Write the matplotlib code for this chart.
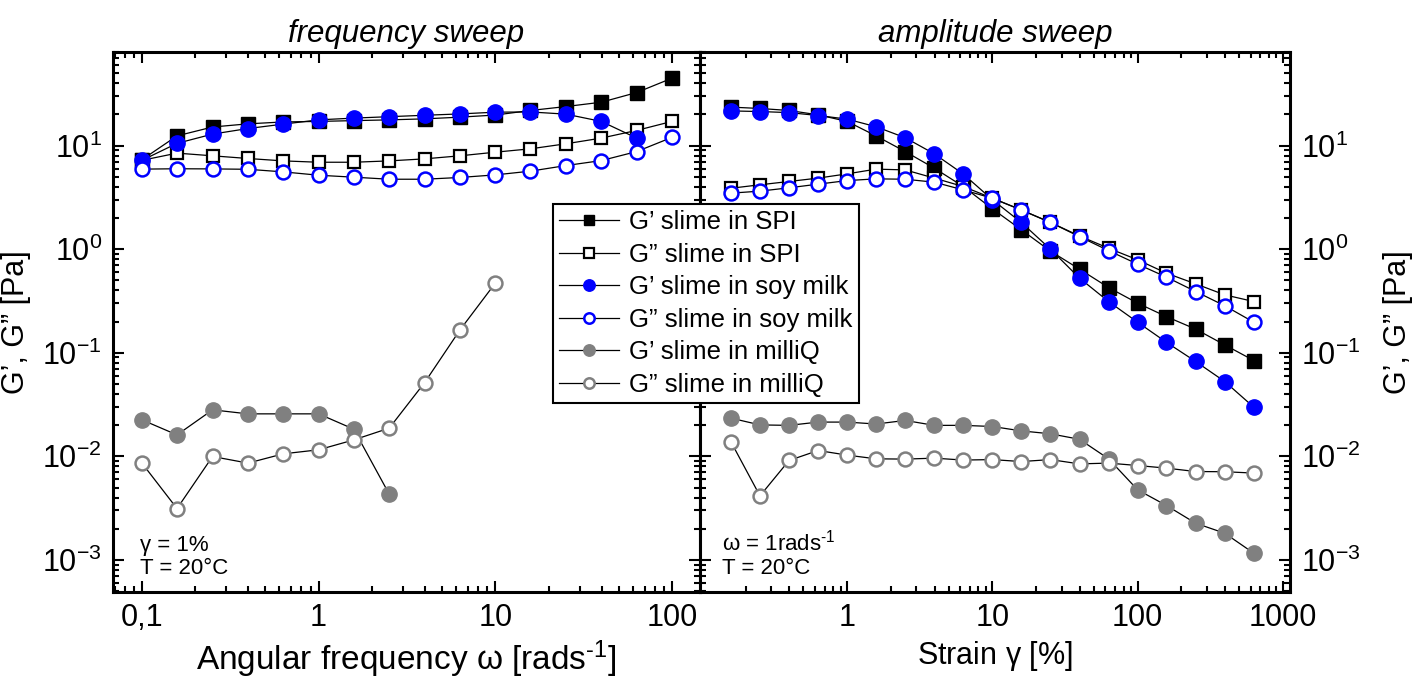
import matplotlib
matplotlib.use("Agg")
import matplotlib.pyplot as plt
from matplotlib.ticker import FixedLocator, FixedFormatter, LogLocator, NullFormatter

plt.rcParams['font.family'] = ['Liberation Sans', 'DejaVu Sans']
plt.rcParams['mathtext.fontset'] = 'custom'
plt.rcParams['mathtext.rm'] = 'Liberation Sans'
plt.rcParams['mathtext.it'] = 'Liberation Sans:italic'
plt.rcParams['mathtext.default'] = 'regular'
plt.rcParams['axes.unicode_minus'] = False

# frequency sweep data (angular frequency in rad/s)
omega = [0.1, 0.158, 0.251, 0.398, 0.631, 1, 1.58, 2.51, 3.98, 6.31,
         10, 15.8, 25.1, 39.8, 63.1, 100]
fs_g1_spi = [7.3, 12.4, 15.1, 16.2, 16.9, 17.1, 17.4, 17.7, 18.1, 18.8,
             19.7, 21.8, 23.8, 26.2, 32.5, 44.7]
fs_g2_spi = [7.2, 8.45, 7.96, 7.5, 7.11, 6.9, 6.9, 7.11, 7.44, 7.96,
             8.63, 9.3, 10.4, 11.8, 14.0, 17.1]
fs_g1_soy = [7.2, 10.5, 12.9, 14.6, 16.1, 17.7, 18.4, 19.0, 19.6, 20.2,
             21.0, 21.1, 20.1, 17.1, 11.8]
fs_g2_soy = [5.92, 5.97, 5.95, 5.9, 5.57, 5.17, 4.95, 4.73, 4.73, 4.92,
             5.21, 5.66, 6.41, 7.16, 8.75, 12.0]
fs_g1_mq = [0.0225, 0.0161, 0.0281, 0.0257, 0.0257, 0.0257, 0.0183, 0.00431]
fs_g2_mq = [0.0086, 0.00313, 0.00996, 0.0086, 0.01057, 0.01156, 0.0144,
            0.0187, 0.0515, 0.166, 0.47]

# amplitude sweep data (strain in %)
strain = [0.158, 0.251, 0.398, 0.631, 1, 1.58, 2.51, 3.98, 6.31, 10,
          15.8, 25.1, 39.8, 63.1, 100, 158, 251, 398, 631]
as_g1_spi = [23.5, 22.8, 21.8, 19.8, 17.1, 12.4, 8.75, 6.05, 4.02, 2.45,
             1.54, 0.957, 0.641, 0.426, 0.301, 0.223, 0.169, 0.119, 0.0841]
as_g2_spi = [3.87, 4.18, 4.5, 4.85, 5.33, 5.92, 5.82, 4.85, 4.02, 3.1,
             2.39, 1.81, 1.34, 1.02, 0.789, 0.586, 0.462, 0.362, 0.312]
as_g1_soy = [21.6, 21.3, 20.8, 19.5, 18.0, 15.2, 11.9, 8.32, 5.3, 3.0,
             1.81, 1.0, 0.525, 0.312, 0.197, 0.126, 0.0823, 0.0527, 0.0298]
as_g2_soy = [3.47, 3.63, 3.91, 4.24, 4.59, 4.77, 4.73, 4.43, 3.73, 3.1,
             2.39, 1.81, 1.32, 0.968, 0.716, 0.537, 0.39, 0.284, 0.197]
as_g1_mq = [0.0234, 0.0201, 0.0199, 0.0214, 0.0214, 0.0205, 0.0222, 0.0199,
            0.0199, 0.0194, 0.0176, 0.0165, 0.0146, 0.00946, 0.00475,
            0.00335, 0.00226, 0.00181, 0.00116]
as_g2_mq = [0.0139, 0.00415, 0.00912, 0.01138, 0.01027, 0.00946, 0.0094,
            0.0096, 0.0092, 0.0093, 0.0089, 0.0093, 0.00845, 0.0086, 0.00815,
            0.00769, 0.00713, 0.0071, 0.00689]

labels = ["G\u2019 slime in SPI", "G\u201d slime in SPI",
          "G\u2019 slime in soy milk", "G\u201d slime in soy milk",
          "G\u2019 slime in milliQ", "G\u201d slime in milliQ"]

blue = "#0000ff"
gray = "#808080"
styles = [
    dict(marker="s", mfc="black", mec="black", ms=10),
    dict(marker="s", mfc="white", mec="black", ms=9, mew=1.6),
    dict(marker="o", mfc=blue, mec=blue, ms=11),
    dict(marker="o", mfc="white", mec=blue, ms=10, mew=1.8),
    dict(marker="o", mfc=gray, mec=gray, ms=11),
    dict(marker="o", mfc="white", mec=gray, ms=10, mew=1.8),
]

W, H = 1422, 683
fig = plt.figure(figsize=(W / 100, H / 100), dpi=100)
ax1 = fig.add_axes([113 / W, 1 - 592 / H, (700 - 113) / W, 540 / H])
ax2 = fig.add_axes([700 / W, 1 - 592 / H, (1290 - 700) / W, 540 / H])

fs_series = [fs_g1_spi, fs_g2_spi, fs_g1_soy, fs_g2_soy, fs_g1_mq, fs_g2_mq]
as_series = [as_g1_spi, as_g2_spi, as_g1_soy, as_g2_soy, as_g1_mq, as_g2_mq]

handles = []
for vals, st, lab in zip(fs_series, styles, labels):
    h, = ax1.plot(omega[:len(vals)], vals, color="black", lw=0.9, label=lab, **st)
    handles.append(h)
for vals, st in zip(as_series, styles):
    ax2.plot(strain[:len(vals)], vals, color="black", lw=0.9, **st)

for ax in (ax1, ax2):
    ax.set_xscale("log")
    ax.set_yscale("log")
    ax.set_ylim(4.9e-4, 80)
    ax.yaxis.set_major_locator(LogLocator(base=10, numticks=10))
    ax.yaxis.set_minor_locator(LogLocator(base=10, subs=range(2, 10), numticks=10))
    ax.yaxis.set_minor_formatter(NullFormatter())
    ax.xaxis.set_minor_locator(LogLocator(base=10, subs=range(2, 10), numticks=10))
    ax.xaxis.set_minor_formatter(NullFormatter())
    ax.tick_params(which="both", direction="in", top=True, bottom=True,
                   left=True, right=True, width=1.5, labelsize=22)
    ax.tick_params(which="major", length=8, pad=8)
    ax.tick_params(which="minor", length=4)
    for sp in ax.spines.values():
        sp.set_linewidth(2.2)

ax1.set_xlim(0.0686, 144)
ax1.xaxis.set_major_locator(FixedLocator([0.1, 1, 10, 100]))
ax1.xaxis.set_major_formatter(FixedFormatter(["0,1", "1", "10", "100"]))
ax1.set_ylabel("G\u2019, G\u201d [Pa]", fontsize=22, labelpad=8)
ax1.set_xlabel(r"Angular frequency $\omega$ [rads$^{\text{-}1}$]", fontsize=24, labelpad=4)
ax1.set_title("frequency sweep", fontsize=22.5, style="italic", pad=7)

ax2.set_xlim(0.097, 1120)
ax2.xaxis.set_major_locator(FixedLocator([1, 10, 100, 1000]))
ax2.xaxis.set_major_formatter(FixedFormatter(["1", "10", "100", "1000"]))
ax2.tick_params(axis="y", labelleft=False, labelright=True)
ax2.yaxis.set_label_position("right")
ax2.set_ylabel("G\u2019, G\u201d [Pa]", fontsize=22, labelpad=16, rotation=90)
ax2.set_xlabel(r"Strain $\gamma$ [%]", fontsize=22, labelpad=4)
ax2.set_title("amplitude sweep", fontsize=22.5, style="italic", pad=7)

ax1.text(0.046, 0.024, "\u03b3 = 1%\nT = 20\u00b0C", transform=ax1.transAxes,
         fontsize=16, va="bottom", ha="left", linespacing=1.15)
ax2.text(0.037, 0.024, "\u03c9 = 1rads$^{\\text{-}1}$\nT = 20\u00b0C", transform=ax2.transAxes,
         fontsize=16, va="bottom", ha="left", linespacing=1.15)

leg = fig.legend(handles=handles, loc="upper left",
                 bbox_to_anchor=(553 / W, 1 - 204 / H), fontsize=18.5,
                 frameon=True, fancybox=False, framealpha=1, edgecolor="black",
                 handlelength=2.3, handletextpad=0.4, borderpad=0.25,
                 labelspacing=0.33, markerscale=0.75, borderaxespad=0)
leg.get_frame().set_linewidth(1.5)

fig.savefig("out.png", dpi=100)
